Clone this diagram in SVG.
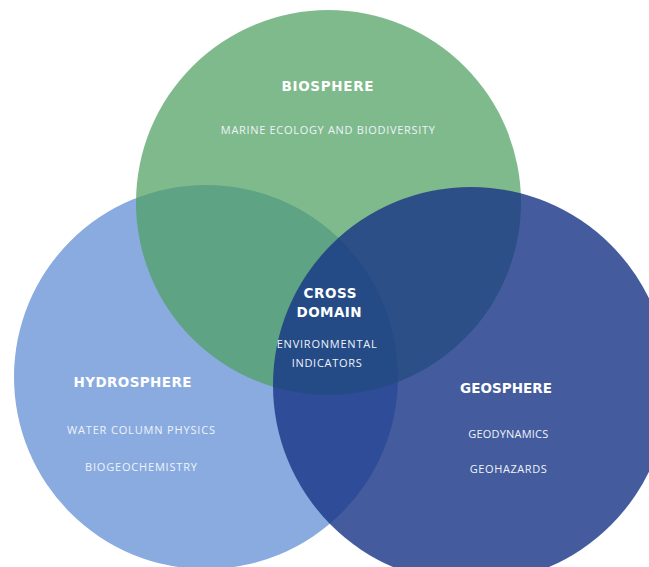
<svg xmlns="http://www.w3.org/2000/svg" width="649" height="567" viewBox="0 0 649 567">
<style>
.t{fill:#ffffff;text-anchor:middle}
.h{font-family:"DejaVu Sans","Open Sans",sans-serif;font-size:13.5px;font-weight:700}
.s{font-family:"Open Sans","DejaVu Sans",sans-serif;font-size:11px;font-weight:400;fill:#eef3fa}
</style>
<rect width="649" height="567" fill="#ffffff"/>
<g id="hydrosphere">
<circle cx="206" cy="377" r="192" fill="#8aabdf"/>
</g>
<g id="biosphere">
<circle cx="328.5" cy="202.5" r="192.5" fill="#4da05f" fill-opacity="0.72"/>
</g>
<g id="geosphere">
<circle cx="471" cy="385" r="198" fill="#193686" fill-opacity="0.81"/>
</g>
<g id="connectors"></g>
<g id="labels-biosphere">
<text class="t h" x="327.5" y="90.5" textLength="92" lengthAdjust="spacing">BIOSPHERE</text>
<text class="t s" x="327.8" y="134" textLength="214" lengthAdjust="spacing">MARINE ECOLOGY AND BIODIVERSITY</text>
</g>
<g id="labels-cross-domain">
<text class="t h" x="330" y="298" textLength="53" lengthAdjust="spacing">CROSS</text>
<text class="t h" x="329" y="317" textLength="65" lengthAdjust="spacing">DOMAIN</text>
<text class="t s" x="326.7" y="348" textLength="100" lengthAdjust="spacing">ENVIRONMENTAL</text>
<text class="t s" x="326.7" y="366.5" textLength="70" lengthAdjust="spacing">INDICATORS</text>
</g>
<g id="labels-hydrosphere">
<text class="t h" x="132.5" y="387" textLength="118" lengthAdjust="spacing">HYDROSPHERE</text>
<text class="t s" x="141" y="434" textLength="148" lengthAdjust="spacing">WATER COLUMN PHYSICS</text>
<text class="t s" x="141" y="470.7" textLength="112" lengthAdjust="spacing">BIOGEOCHEMISTRY</text>
</g>
<g id="labels-geosphere">
<text class="t h" x="506" y="393" textLength="92" lengthAdjust="spacing">GEOSPHERE</text>
<text class="t s" x="508.3" y="438" textLength="80" lengthAdjust="spacing">GEODYNAMICS</text>
<text class="t s" x="508.3" y="473" textLength="77" lengthAdjust="spacing">GEOHAZARDS</text>
</g>
</svg>
